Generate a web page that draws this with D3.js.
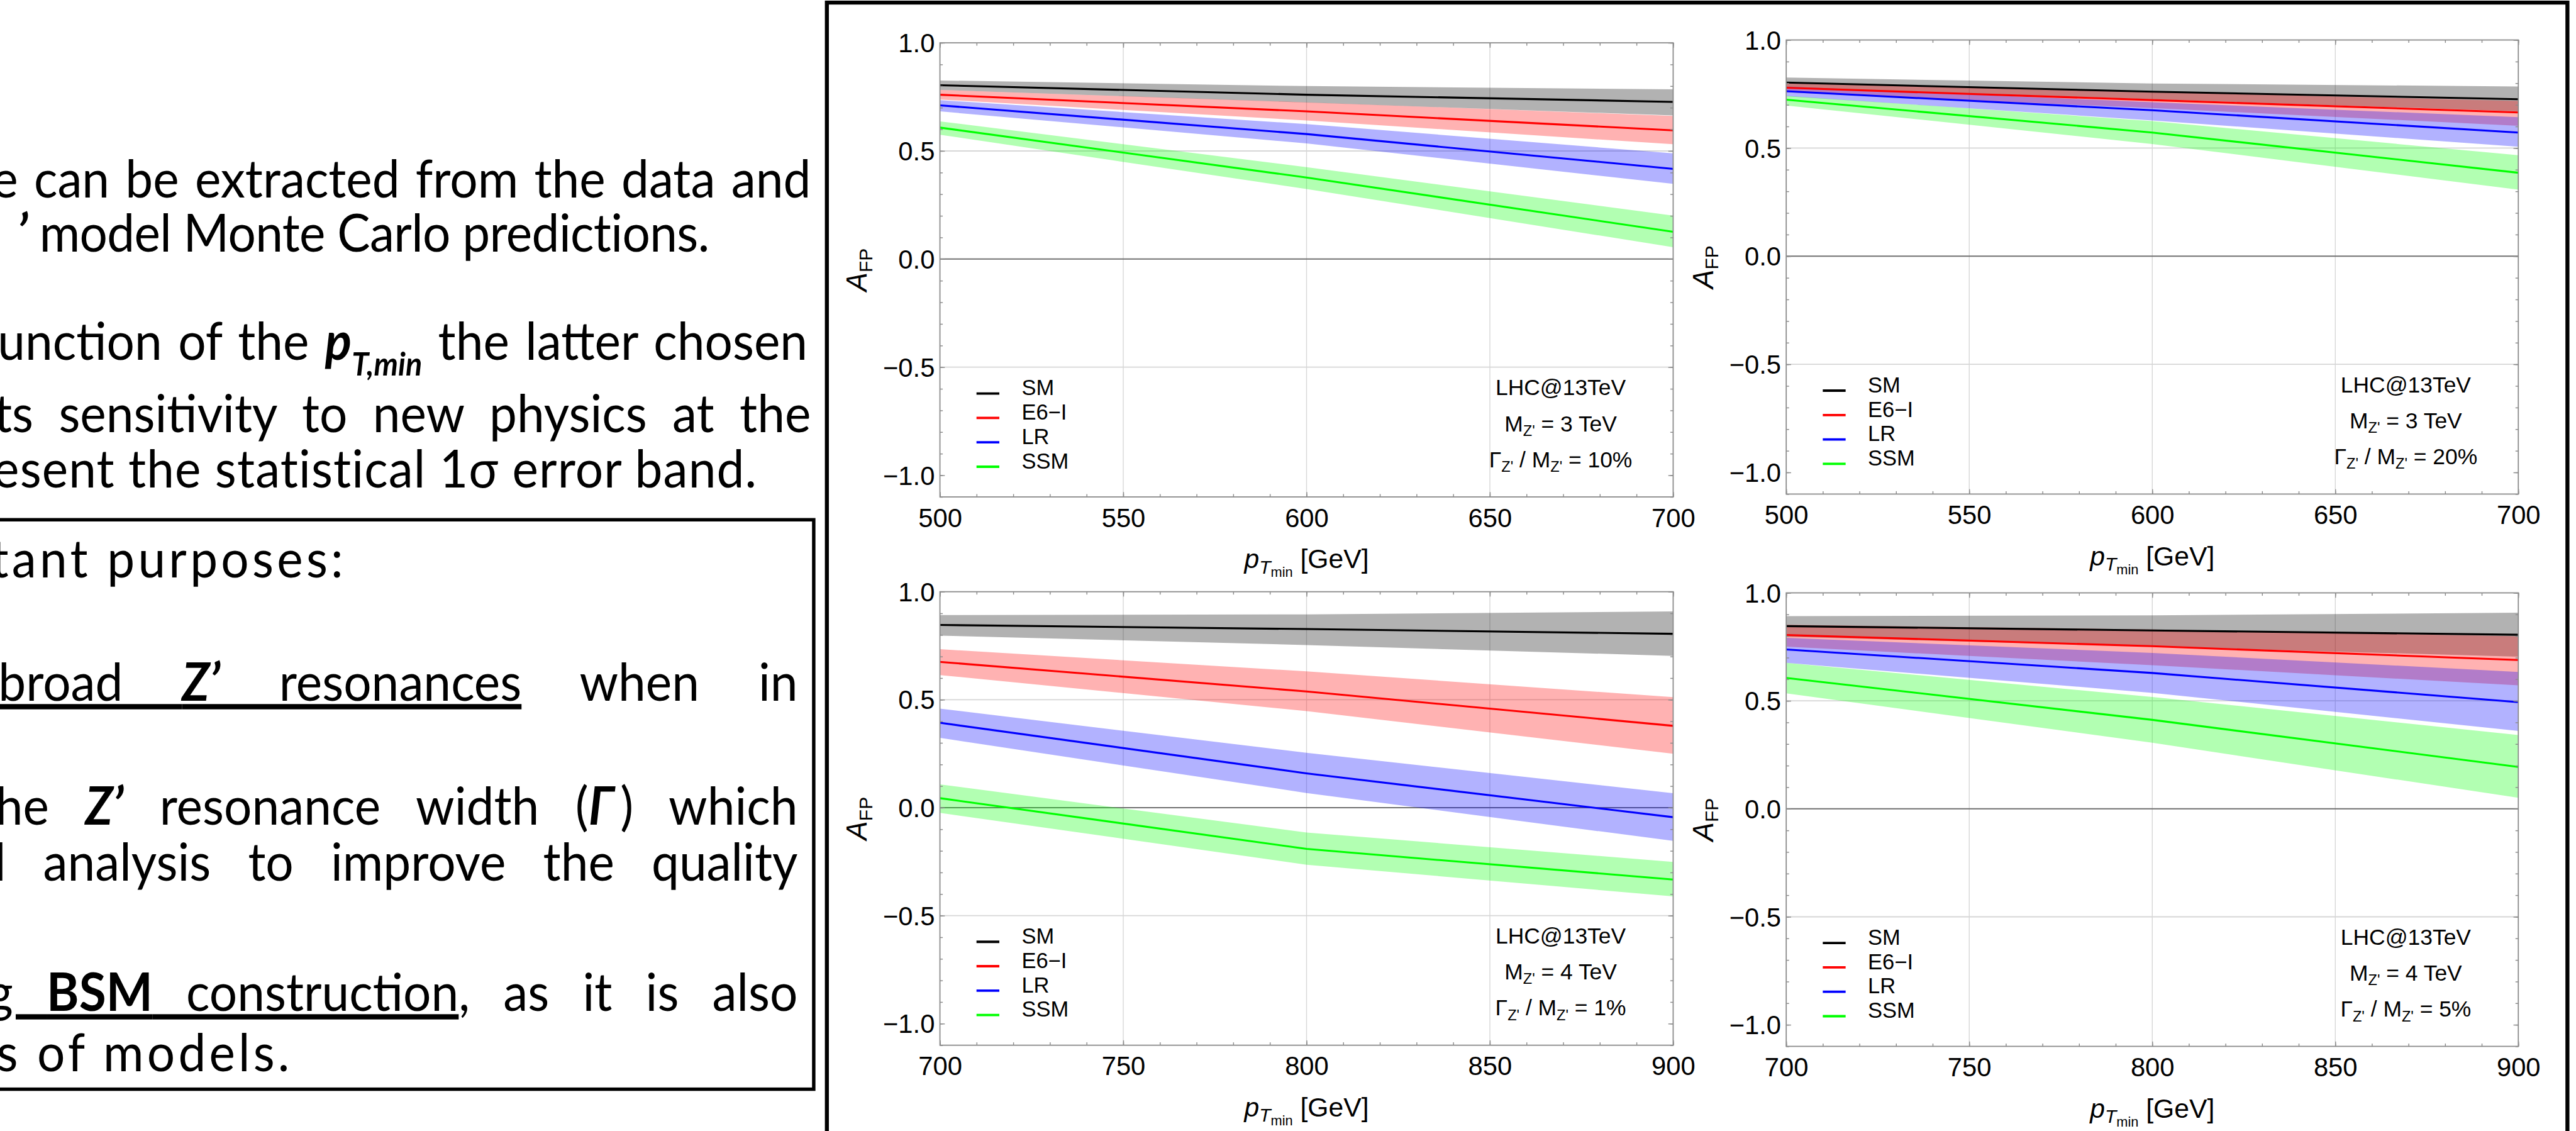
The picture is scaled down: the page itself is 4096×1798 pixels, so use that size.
<!DOCTYPE html>
<html>
<head>
<meta charset="utf-8">
<script src="https://cdn.jsdelivr.net/npm/d3@7"></script>
<style>
  body { margin: 0; background: #ffffff; }
  svg { display: block; }
</style>
</head>
<body>
<svg id="chart" width="4096" height="1798"></svg>
<script>
// ---- data ----
const ptTop = [500, 600, 700];
const ptBottom = [700, 800, 900];
const xTicksTop = [500, 550, 600, 650, 700];
const xTicksBottom = [700, 750, 800, 850, 900];
const yTicks = [-1.0, -0.5, 0.0, 0.5, 1.0];
const gridY = [-0.5, 0.5];
const models = ["SM", "E6\u2212I", "LR", "SSM"];
const modelColors = ["#000000", "#ff0000", "#0000ff", "#00ff00"];

// M_Z' = 3 TeV, width 10%   (rows: SM, E6-I, LR, SSM)
const afpA = [[0.804, 0.760, 0.727], [0.760, 0.683, 0.595], [0.711, 0.578, 0.417], [0.608, 0.377, 0.126]];
const afpA_lo = [[0.782, 0.724, 0.664], [0.738, 0.641, 0.531], [0.683, 0.535, 0.348], [0.575, 0.324, 0.055]];
const afpA_hi = [[0.826, 0.800, 0.785], [0.782, 0.725, 0.662], [0.735, 0.624, 0.489], [0.637, 0.425, 0.201]];

// M_Z' = 3 TeV, width 20%
const afpB = [[0.803, 0.761, 0.726], [0.779, 0.722, 0.665], [0.763, 0.675, 0.572], [0.724, 0.572, 0.386]];
const afpB_lo = [[0.780, 0.726, 0.670], [0.758, 0.685, 0.603], [0.740, 0.628, 0.506], [0.697, 0.519, 0.308]];
const afpB_hi = [[0.826, 0.799, 0.785], [0.800, 0.760, 0.718], [0.785, 0.712, 0.643], [0.742, 0.625, 0.467]];

// M_Z' = 4 TeV, width 1%
const afpC = [[0.846, 0.827, 0.805], [0.675, 0.538, 0.379], [0.393, 0.159, -0.044], [0.044, -0.191, -0.333]];
const afpC_lo = [[0.797, 0.753, 0.703], [0.614, 0.447, 0.250], [0.323, 0.068, -0.154], [-0.024, -0.264, -0.411]];
const afpC_hi = [[0.892, 0.895, 0.909], [0.734, 0.631, 0.512], [0.459, 0.254, 0.067], [0.108, -0.115, -0.251]];

// M_Z' = 4 TeV, width 5%
const afpD = [[0.846, 0.826, 0.806], [0.805, 0.753, 0.689], [0.738, 0.629, 0.494], [0.606, 0.412, 0.194]];
const afpD_lo = [[0.797, 0.752, 0.704], [0.751, 0.665, 0.572], [0.676, 0.537, 0.361], [0.535, 0.306, 0.051]];
const afpD_hi = [[0.892, 0.896, 0.908], [0.852, 0.830, 0.799], [0.792, 0.722, 0.634], [0.676, 0.518, 0.342]];

const noteMass = ["3", "3", "4", "4"];
const noteWidth = ["10%", "20%", "1%", "5%"];

// slide text on the left (cut off by the crop); j = justified line
const slideLines = [
  { j: 1, x0: -14, x1: 1420, y: 346, segs: [{ t: "e can be extracted from the data and" }] },
  { j: 0, x0: 30, x1: 1244, y: 441, segs: [{ t: "\u2019", b: 1, i: 1 }, { t: " model Monte Carlo predictions." }] },
  { j: 1, x0: -4, x1: 1420, y: 630, segs: [{ t: "unction of the  " }, { t: "p", b: 1, i: 1 }, { t: "T,min", b: 1, i: 1, sub: 1 }, { t: " the latter chosen" }] },
  { j: 1, x0: -10, x1: 1420, y: 757, segs: [{ t: "ts sensitivity to new physics at the" }] },
  { j: 0, x0: -12, x1: 1328, y: 854, segs: [{ t: "esent the statistical 1\u03c3 error band." }] },
  { j: 0, x0: -16, x1: 601, y: 1011, segs: [{ t: "tant purposes:" }] },
  { j: 1, x0: -3, x1: 1397, y: 1227, segs: [{ t: "broad ", u: 1 }, { t: "Z\u2019", b: 1, i: 1, u: 1 }, { t: " resonances", u: 1 }, { t: " when in" }] },
  { j: 1, x0: -8, x1: 1397, y: 1444, segs: [{ t: "he " }, { t: "Z\u2019", b: 1, i: 1 }, { t: " resonance width (" }, { t: "\u0393", b: 1, i: 1 }, { t: "\u2009) which" }] },
  { j: 1, x0: -10, x1: 1397, y: 1542, segs: [{ t: "l analysis to improve the quality" }] },
  { j: 1, x0: -22, x1: 1397, y: 1770, segs: [{ t: "g ", u: 1 }, { t: "BSM", b: 1, u: 1 }, { t: " construction", u: 1 }, { t: ", as it is also" }] },
  { j: 0, x0: -6, x1: 507, y: 1875, segs: [{ t: "s of models." }] },
];

// ---- drawing ----
const svg = d3.select("#chart");
const root = svg.append("g").attr("transform", "scale(0.908)");

const plotFont = "'Liberation Sans', Arial, sans-serif";
const slideFont = "Lato, 'Open Sans', sans-serif";
const slideSize = 92;

// the slide font is a condensed one: squeeze Lato so an unjustified line keeps its width
const calib = root
  .append("text")
  .attr("font-family", slideFont)
  .attr("font-size", slideSize)
  .text("model Monte Carlo predictions.");
const squeeze = 1196 / calib.node().getComputedTextLength();
calib.remove();

slideLines.forEach((line) => {
  const text = root
    .append("text")
    .attr("transform", `translate(${line.x0},${line.y}) scale(${squeeze},1)`)
    .attr("font-family", slideFont)
    .attr("font-size", slideSize)
    .attr("fill", "#000");
  let shifted = 0;
  line.segs.forEach((s) => {
    const ts = text.append("tspan").text(s.t);
    if (s.b) ts.attr("font-weight", "bold");
    if (s.i) ts.attr("font-style", "italic");
    if (s.u) ts.style("text-decoration", "underline");
    if (s.sub) {
      ts.attr("font-size", slideSize * 0.62).attr("dy", slideSize * 0.3);
      shifted = slideSize * 0.3;
    } else if (shifted) {
      ts.attr("dy", -shifted);
      shifted = 0;
    }
  });
  // spread the line so it ends where the reference does
  const node = text.node();
  const w = node.getComputedTextLength();
  const str = node.textContent;
  const spaces = (str.match(/ /g) || []).length;
  const diff = (line.x1 - line.x0) / squeeze - w;
  if (line.j && diff > 0 && spaces > 0) {
    text.style("word-spacing", diff / spaces + "px");
  } else {
    text.style("letter-spacing", diff / (str.length - 1) + "px");
  }
});

// box around the second paragraph
root
  .append("rect")
  .attr("x", -30)
  .attr("y", 910)
  .attr("width", 1455)
  .attr("height", 997)
  .attr("fill", "none")
  .attr("stroke", "#000")
  .attr("stroke-width", 6);

// outer frame of the figure area
root
  .append("path")
  .attr("d", "M1448,1990 V4.5 H4496 V1990")
  .attr("fill", "none")
  .attr("stroke", "#000")
  .attr("stroke-width", 7);

function drawPanel(box, pts, xTicks, center, lower, upper, k) {
  const g = root.append("g");
  const x = d3.scaleLinear().domain(d3.extent(pts)).range([box.left, box.right]);
  const y = d3.scaleLinear().domain([-1.1, 1.0]).range([box.bottom, box.top]);

  // grid
  g.selectAll("line.gx")
    .data(xTicks.slice(1, -1))
    .join("line")
    .attr("x1", (d) => x(d))
    .attr("x2", (d) => x(d))
    .attr("y1", box.top)
    .attr("y2", box.bottom)
    .attr("stroke", "#d6d6d6")
    .attr("stroke-width", 1.5);
  g.selectAll("line.gy")
    .data(gridY)
    .join("line")
    .attr("x1", box.left)
    .attr("x2", box.right)
    .attr("y1", (d) => y(d))
    .attr("y2", (d) => y(d))
    .attr("stroke", "#d6d6d6")
    .attr("stroke-width", 2);
  g.append("line")
    .attr("x1", box.left)
    .attr("x2", box.right)
    .attr("y1", y(0))
    .attr("y2", y(0))
    .attr("stroke", "#707070")
    .attr("stroke-width", 2.2);

  // error bands
  const area = d3
    .area()
    .x((d, i) => x(pts[i]))
    .y0((d) => y(d[0]))
    .y1((d) => y(d[1]));
  models.forEach((m, j) => {
    const band = lower[j].map((lo, i) => [lo, upper[j][i]]);
    g.append("path")
      .datum(band)
      .attr("d", area)
      .attr("fill", modelColors[j])
      .attr("fill-opacity", 0.3);
  });

  // central lines
  const line = d3
    .line()
    .x((d, i) => x(pts[i]))
    .y((d) => y(d));
  models.forEach((m, j) => {
    g.append("path")
      .datum(center[j])
      .attr("d", line)
      .attr("fill", "none")
      .attr("stroke", modelColors[j])
      .attr("stroke-width", 3.4);
  });

  // frame
  g.append("rect")
    .attr("x", box.left)
    .attr("y", box.top)
    .attr("width", box.right - box.left)
    .attr("height", box.bottom - box.top)
    .attr("fill", "none")
    .attr("stroke", "#8c8c8c")
    .attr("stroke-width", 2);

  // frame ticks (inward) on all sides
  const tickColor = "#8c8c8c";
  const major = 8.5;
  const minor = 5;
  const noDomain = (s) => s.select(".domain").remove();
  const styleAxis = (s) =>
    s.attr("color", tickColor)
      .attr("font-family", plotFont)
      .attr("font-size", 46)
      .selectAll("line")
      .attr("stroke-width", 1.6);

  g.append("g")
    .attr("transform", `translate(0,${box.bottom})`)
    .call(d3.axisBottom(x).ticks(20).tickSize(-minor).tickFormat(""))
    .call(noDomain)
    .call(styleAxis);
  g.append("g")
    .attr("transform", `translate(0,${box.top})`)
    .call(d3.axisTop(x).ticks(20).tickSize(-minor).tickFormat(""))
    .call(noDomain)
    .call(styleAxis);
  g.append("g")
    .attr("transform", `translate(${box.left},0)`)
    .call(d3.axisLeft(y).ticks(21).tickSize(-minor).tickFormat(""))
    .call(noDomain)
    .call(styleAxis);
  g.append("g")
    .attr("transform", `translate(${box.right},0)`)
    .call(d3.axisRight(y).ticks(21).tickSize(-minor).tickFormat(""))
    .call(noDomain)
    .call(styleAxis);

  const bottomAxis = g
    .append("g")
    .attr("transform", `translate(0,${box.bottom})`)
    .call(d3.axisBottom(x).tickValues(xTicks).tickSize(-major).tickPadding(20).tickFormat(d3.format("d")))
    .call(noDomain)
    .call(styleAxis);
  bottomAxis.selectAll("text").attr("fill", "#000");

  const leftAxis = g
    .append("g")
    .attr("transform", `translate(${box.left},0)`)
    .call(d3.axisLeft(y).tickValues(yTicks).tickSize(-major).tickPadding(9).tickFormat(d3.format(".1f")))
    .call(noDomain)
    .call(styleAxis);
  leftAxis.selectAll("text").attr("fill", "#000").attr("dy", "0.35em");

  g.append("g")
    .attr("transform", `translate(0,${box.top})`)
    .call(d3.axisTop(x).tickValues(xTicks).tickSize(-major).tickFormat(""))
    .call(noDomain)
    .call(styleAxis);
  g.append("g")
    .attr("transform", `translate(${box.right},0)`)
    .call(d3.axisRight(y).tickValues(yTicks).tickSize(-major).tickFormat(""))
    .call(noDomain)
    .call(styleAxis);

  // axis titles
  const yTitle = g
    .append("text")
    .attr("transform", `translate(${box.left - 128},${(box.top + box.bottom) / 2}) rotate(-90)`)
    .attr("text-anchor", "middle")
    .attr("font-family", plotFont)
    .attr("font-size", 50)
    .attr("fill", "#000");
  yTitle.append("tspan").attr("font-style", "italic").text("A");
  yTitle.append("tspan").attr("font-size", 33).attr("dy", 9).text("FP");

  const xTitle = g
    .append("text")
    .attr("x", (box.left + box.right) / 2)
    .attr("y", box.bottom + 125)
    .attr("text-anchor", "middle")
    .attr("font-family", plotFont)
    .attr("font-size", 47)
    .attr("fill", "#000");
  xTitle.append("tspan").attr("font-style", "italic").text("p");
  xTitle.append("tspan").attr("font-style", "italic").attr("font-size", 33).attr("dy", 9).text("T");
  xTitle.append("tspan").attr("font-size", 24).attr("dy", 6).text("min");
  xTitle.append("tspan").attr("dy", -15).text(" [GeV]");

  // legend
  const legendY = models.map((m, j) => box.bottom - 181 + j * 42.7);
  models.forEach((m, j) => {
    g.append("line")
      .attr("x1", box.left + 64)
      .attr("x2", box.left + 104)
      .attr("y1", legendY[j])
      .attr("y2", legendY[j])
      .attr("stroke", modelColors[j])
      .attr("stroke-width", 4.3);
    g.append("text")
      .attr("x", box.left + 143)
      .attr("y", legendY[j] + 3)
      .attr("font-family", plotFont)
      .attr("font-size", 38)
      .attr("fill", "#000")
      .text(m);
  });

  // annotation
  const nx = box.right - 197;
  const note = (dy) =>
    g.append("text")
      .attr("x", nx)
      .attr("y", box.bottom + dy)
      .attr("text-anchor", "middle")
      .attr("font-family", plotFont)
      .attr("font-size", 39)
      .attr("fill", "#000");
  note(-178).text("LHC@13TeV");
  const n2 = note(-115);
  n2.append("tspan").text("M");
  n2.append("tspan").attr("font-size", 26).attr("dy", 8).text("Z'");
  n2.append("tspan").attr("dy", -8).text(" = " + noteMass[k] + " TeV");
  const n3 = note(-52);
  n3.append("tspan").text("\u0393");
  n3.append("tspan").attr("font-size", 26).attr("dy", 8).text("Z'");
  n3.append("tspan").attr("dy", -8).text(" / M");
  n3.append("tspan").attr("font-size", 26).attr("dy", 8).text("Z'");
  n3.append("tspan").attr("dy", -8).text(" = " + noteWidth[k]);
}

drawPanel({ left: 1646, right: 2930, top: 75, bottom: 870 }, ptTop, xTicksTop, afpA, afpA_lo, afpA_hi, 0);
drawPanel({ left: 3128, right: 4410, top: 70, bottom: 865 }, ptTop, xTicksTop, afpB, afpB_lo, afpB_hi, 1);
drawPanel({ left: 1646, right: 2930, top: 1036, bottom: 1830 }, ptBottom, xTicksBottom, afpC, afpC_lo, afpC_hi, 2);
drawPanel({ left: 3128, right: 4410, top: 1038, bottom: 1832 }, ptBottom, xTicksBottom, afpD, afpD_lo, afpD_hi, 3);
</script>
</body>
</html>
